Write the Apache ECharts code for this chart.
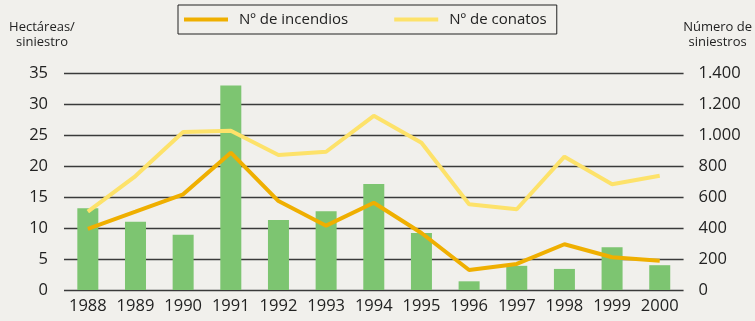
<!DOCTYPE html>
<html>
<head>
<meta charset="utf-8">
<script src="https://cdn.jsdelivr.net/npm/echarts@6/dist/echarts.min.js"></script>
<style>
  html, body { margin: 0; padding: 0; background: #f1f0ec; }
  #chart { width: 755px; height: 321px; }
</style>
</head>
<body>
<div id="chart"></div>
<script>
// Años
const years = ['1988','1989','1990','1991','1992','1993','1994','1995','1996','1997','1998','1999','2000'];
// Hectáreas por siniestro (eje izquierdo)
const hectareasSiniestro = [13.2, 11.0, 8.9, 33.0, 11.3, 12.7, 17.1, 9.2, 1.4, 3.9, 3.4, 6.9, 4.0];
// Número de incendios (eje derecho)
const incendios = [395, 505, 617, 886, 574, 415, 563, 368, 129, 168, 295, 211, 189];
// Número de conatos (eje derecho)
const conatos = [505, 735, 1019, 1028, 871, 892, 1124, 950, 553, 521, 860, 682, 737];

const fontFamily = '"Open Sans", sans-serif';
const textColor = '#222';
const gridLine = { lineStyle: { color: '#3a3a3a', width: 1.3 } };

const chart = echarts.init(document.getElementById('chart'), null, { renderer: 'canvas' });
chart.setOption({
  backgroundColor: '#f1f0ec',
  animation: false,
  textStyle: { fontFamily },
  legend: {
    data: ['Nº de incendios', 'Nº de conatos'],
    left: 178,
    top: 5,
    icon: 'rect',
    itemWidth: 44,
    itemHeight: 4,
    itemGap: 46,
    padding: [7, 10, 7, 6],
    borderColor: '#222',
    borderWidth: 1,
    textStyle: { fontSize: 15, color: textColor, fontFamily, padding: [0, 0, 0, 6] }
  },
  grid: { left: 64, right: 71, top: 73, bottom: 31, containLabel: false },
  xAxis: {
    type: 'category',
    data: years,
    axisLine: { show: false },
    axisTick: { show: false },
    axisLabel: { fontSize: 16.5, color: textColor, margin: 8, interval: 0 }
  },
  yAxis: [
    {
      type: 'value',
      min: 0, max: 35, interval: 5,
      name: 'Hectáreas/\nsiniestro',
      nameLocation: 'end',
      nameGap: 23.5,
      nameTextStyle: { fontSize: 13, color: textColor, align: 'center', padding: [0, 0, 0, -44], lineHeight: 15 },
      axisLine: { show: false },
      axisTick: { show: false },
      splitLine: gridLine,
      axisLabel: { fontSize: 16.5, color: textColor, margin: 16 }
    },
    {
      type: 'value',
      min: 0, max: 1400, interval: 200,
      name: 'Número de\nsiniestros',
      nameLocation: 'end',
      nameGap: 23.5,
      nameTextStyle: { fontSize: 13, color: textColor, align: 'center', padding: [0, 0, 0, 68], lineHeight: 15 },
      axisLine: { show: false },
      axisTick: { show: false },
      splitLine: { show: false },
      axisLabel: {
        fontSize: 16.5, color: textColor, margin: 15, align: 'left',
        formatter: v => v >= 1000 ? String(v).replace(/(\d)(\d{3})$/, '$1.$2') : String(v)
      }
    }
  ],
  series: [
    {
      name: 'Hectáreas/siniestro',
      type: 'bar',
      yAxisIndex: 0,
      data: hectareasSiniestro,
      barWidth: 21,
      itemStyle: { color: '#7dc571' },
      z: 1
    },
    {
      name: 'Nº de conatos',
      type: 'line',
      yAxisIndex: 1,
      data: conatos,
      symbol: 'none',
      lineStyle: { color: '#fde26a', width: 4 },
      itemStyle: { color: '#fde26a' },
      z: 2
    },
    {
      name: 'Nº de incendios',
      type: 'line',
      yAxisIndex: 1,
      data: incendios,
      symbol: 'none',
      lineStyle: { color: '#efaf00', width: 4 },
      itemStyle: { color: '#efaf00' },
      z: 3
    }
  ]
});
</script>
</body>
</html>
